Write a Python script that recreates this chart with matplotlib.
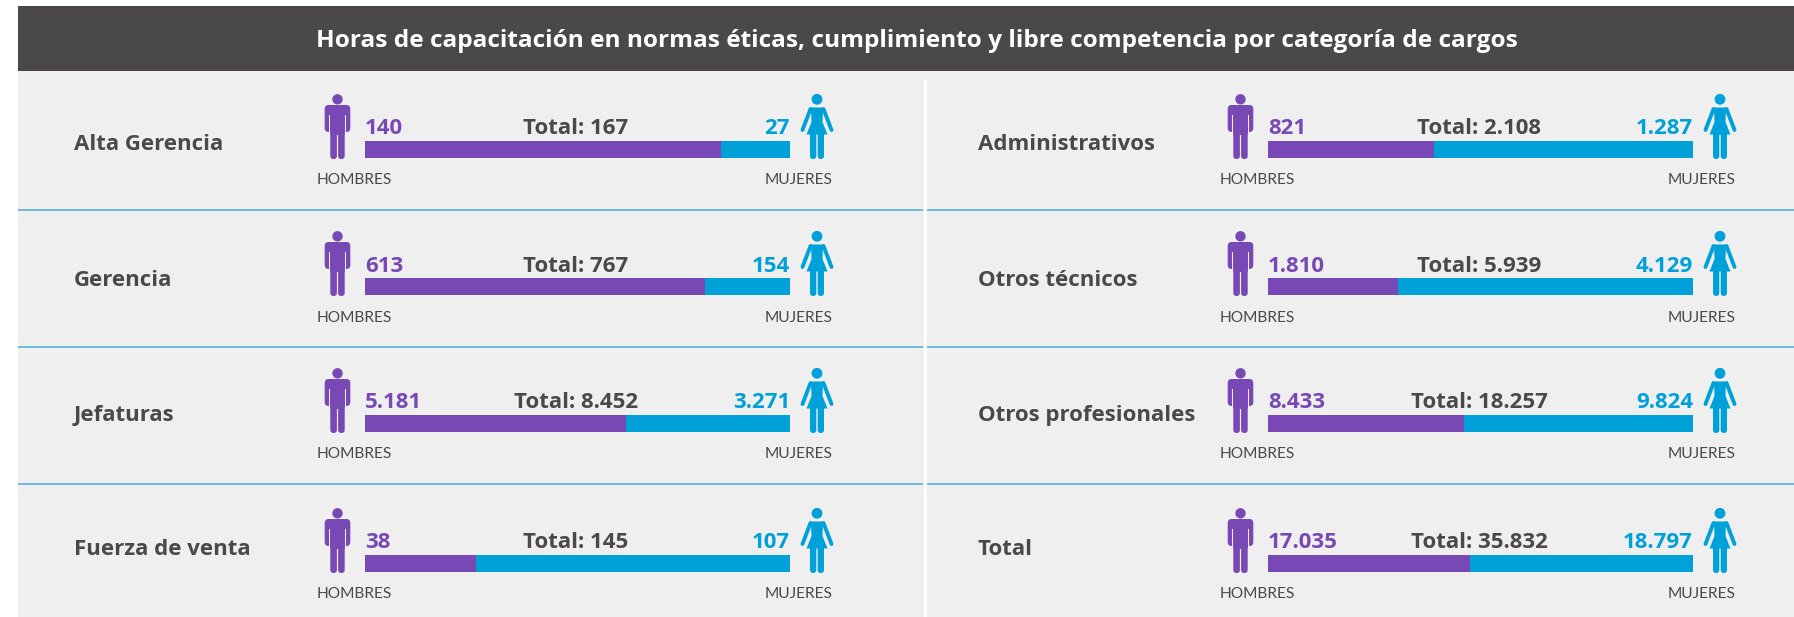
import matplotlib
matplotlib.use('Agg')
import matplotlib.pyplot as plt
from matplotlib.patches import Circle, FancyBboxPatch, Polygon, Rectangle

W, H = 1794, 617

title = 'Horas de capacitación en normas éticas, cumplimiento y libre competencia por categoría de cargos'
left_names = ['Alta Gerencia', 'Gerencia', 'Jefaturas', 'Fuerza de venta']
left_men = [140, 613, 5181, 38]
left_women = [27, 154, 3271, 107]
left_total = [167, 767, 8452, 145]
right_names = ['Administrativos', 'Otros técnicos', 'Otros profesionales', 'Total']
right_men = [821, 1810, 8433, 17035]
right_women = [1287, 4129, 9824, 18797]
right_total = [2108, 5939, 18257, 35832]

PURPLE = '#7849b4'
BLUE = '#00a0d8'
DARK = '#4a4947'
BG = '#efefef'
LINE = '#55b4dc'

row_dy = [0, 137, 274, 414]
name_y = [144.5, 280.5, 415.5, 549.5]
sep_y = [209.5, 346.5, 483.5]

plt.rcParams['font.family'] = ['Open Sans', 'DejaVu Sans']

fig = plt.figure(figsize=(W / 100, H / 100), dpi=100)
ax = fig.add_axes([0, 0, 1, 1])
ax.set_xlim(0, W)
ax.set_ylim(H, 0)
ax.axis('off')


def fmt(n):
    return f'{n:,}'.replace(',', '.')


def rounded(x0, y0, x1, y1, r, color):
    ax.add_patch(FancyBboxPatch((x0 + r, y0 + r), x1 - x0 - 2 * r, y1 - y0 - 2 * r,
                                boxstyle=f'round,pad={r}', fc=color, ec='none'))


def man(cx, dy):
    ax.add_patch(Circle((cx, 99.3 + dy), 5.2, fc=PURPLE, ec='none'))
    rounded(cx - 12.8, 105 + dy, cx + 12.8, 132 + dy, 4, PURPLE)
    rounded(cx - 7.2, 110 + dy, cx + 7.2, 135 + dy, 1, PURPLE)
    # gaps between arms and body
    ax.add_patch(Rectangle((cx - 8.2, 115 + dy), 1, 18, fc=BG, ec='none'))
    ax.add_patch(Rectangle((cx + 7.2, 115 + dy), 1, 18, fc=BG, ec='none'))
    rounded(cx - 7.2, 125 + dy, cx - 0.6, 159 + dy, 3, PURPLE)
    rounded(cx + 0.6, 125 + dy, cx + 7.2, 159 + dy, 3, PURPLE)


def woman(cx, dy):
    ax.add_patch(Circle((cx, 99.3 + dy), 5.4, fc=BLUE, ec='none'))
    ax.add_patch(Polygon([(cx - 6, 107.5 + dy), (cx + 6, 107.5 + dy), (cx + 5.5, 122 + dy),
                          (cx + 10.5, 134.5 + dy), (cx - 10.5, 134.5 + dy), (cx - 5.5, 122 + dy)],
                         fc=BLUE, ec='none'))
    for s in (-1, 1):
        ax.plot([cx + s * 6.5, cx + s * 14.5], [109 + dy, 130 + dy], color=BLUE, lw=2.8,
                solid_capstyle='round')
    rounded(cx - 7, 130 + dy, cx - 0.7, 159 + dy, 3, BLUE)
    rounded(cx + 0.7, 130 + dy, cx + 7, 159 + dy, 3, BLUE)


def draw_column(names, men, women, totals, x_name, x_bar, x0, x1):
    for i in range(len(names)):
        dy = row_dy[i]
        ax.text(x_name, name_y[i], names[i], fontsize=16, fontweight='bold', color=DARK,
                ha='left', va='center')
        man(x_bar - 27.5, dy)
        woman(x_bar + 452, dy)
        ax.text(x_bar, 129 + dy, fmt(men[i]), fontsize=16, fontweight='bold', color=PURPLE,
                ha='left', va='center')
        ax.text(x_bar + 425, 129 + dy, fmt(women[i]), fontsize=16, fontweight='bold', color=BLUE,
                ha='right', va='center')
        ax.text(x_bar + 211, 129 + dy, f'Total: {fmt(totals[i])}', fontsize=16, fontweight='bold',
                color=DARK, ha='center', va='center')
        ax.text(x_bar - 48, 180.5 + dy, 'HOMBRES', fontsize=11.2, family=['Lato', 'DejaVu Sans'],
                color=DARK, ha='left', va='center')
        ax.text(x_bar + 468, 180.5 + dy, 'MUJERES', fontsize=11.2, family=['Lato', 'DejaVu Sans'],
                color=DARK, ha='right', va='center')
        # the bar gets its own axes so the split comes from the data scale
        bar_ax = fig.add_axes([x_bar / W, 1 - (158 + dy) / H, 425 / W, 17 / H])
        bar_ax.barh([0], [men[i]], height=1, color=PURPLE)
        bar_ax.barh([0], [women[i]], left=[men[i]], height=1, color=BLUE)
        bar_ax.set_xlim(0, totals[i])
        bar_ax.set_ylim(-0.5, 0.5)
        bar_ax.axis('off')
    for y in sep_y:
        ax.plot([x0, x1], [y, y], color=LINE, lw=1.2, solid_capstyle='butt')


ax.add_patch(Rectangle((18, 6), W - 18, H - 6, fc=BG, ec='none'))
ax.add_patch(Rectangle((18, 6), W - 18, 65, fc=DARK, ec='none'))
ax.add_patch(Rectangle((924, 80), 2.5, H - 80, fc='white', ec='none'))
ax.text(917, 41, title, fontsize=17.6, fontweight='bold', color='white', ha='center', va='center')

draw_column(left_names, left_men, left_women, left_total, 74, 365, 18, 923)
draw_column(right_names, right_men, right_women, right_total, 978, 1268, 927, W)

fig.savefig('out.png', dpi=100)
